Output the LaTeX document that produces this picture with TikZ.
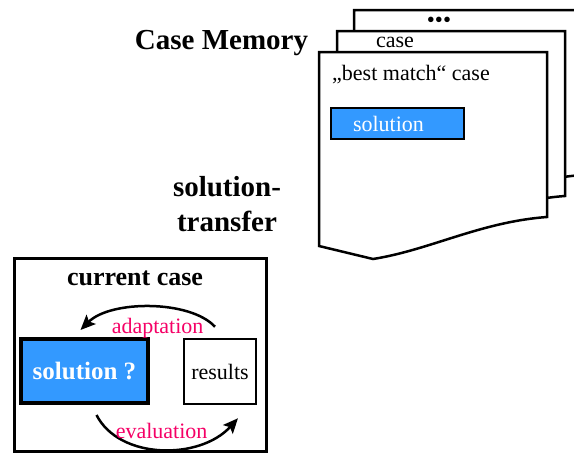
\documentclass[tikz,border=0pt]{standalone}
\usepackage{fontspec}
\setmainfont{Liberation Serif}
\usetikzlibrary{arrows.meta}

\definecolor{solblue}{RGB}{51,153,255}
\definecolor{labelred}{RGB}{245,0,102}

\tikzset{
  casepage/.style={draw=black, fill=white, line width=2.5pt, line join=miter},
  headtext/.style={font=\fontsize{29}{35}\selectfont\bfseries, inner sep=0pt},
  plaintext/.style={font=\fontsize{22}{26}\selectfont, inner sep=0pt},
  membox/.style={draw=black, fill=solblue, line width=2.5pt, text=white,
    font=\fontsize{22}{26}\selectfont, minimum height=31pt,
    inner xsep=22pt, text width=89pt, align=left},
  solbox/.style={draw=black, fill=solblue, line width=4pt, text=white,
    font=\fontsize{25}{30}\selectfont\bfseries, minimum width=127pt, minimum height=64pt},
  resbox/.style={draw=black, fill=white, line width=2.5pt,
    font=\fontsize{22}{26}\selectfont, minimum width=72pt, minimum height=65pt},
  loop/.style={line width=2.5pt, -{Stealth[length=15pt,width=13pt,inset=3pt]}},
  looplabel/.style={text=labelred, font=\fontsize{22}{26}\selectfont, inner sep=0pt}
}

\begin{document}
\begin{tikzpicture}[x=1pt, y=-1pt]
    \useasboundingbox (0,0) rectangle (574,455);
    \clip (0,0) rectangle (574,455);

    % case memory: three stacked pages
    \foreach \dx/\dy in {35/-42, 18/-21, 0/0}{
        \begin{scope}[shift={(\dx,\dy)}]
            \draw[casepage] (319,52) -- (547,52) -- (547,217)
                .. controls (480,222) and (430,250) .. (373,259)
                -- (319,246) -- cycle;
        \end{scope}
    }
    \node[plaintext, font=\fontsize{23}{26}\selectfont] (dots) at (439,22) {•••};
    \node[plaintext, anchor=base] (midcase) at (395,47) {case};
    \node[plaintext, anchor=base west] (bestmatch) at (332,81) {„best match“ case};
    \node[membox] (memsol) at (397.5,123.5) {solution};

    % titles
    \node[headtext, anchor=base] (memtitle) at (221.5,49) {Case Memory};
    \node[headtext, align=center] (transfer) at (227,204) {solution-\\transfer};

    % current case
    \draw[line width=3pt] (14.5,258.5) rectangle (266.5,451.5);
    \node[headtext, font=\fontsize{26}{30}\selectfont\bfseries, anchor=base] (curtitle) at (135,285) {current case};
    \node[solbox] (solq) at (84.5,371) {solution ?};
    \node[resbox] (res) at (220,371.5) {results};

    \draw[loop] ([xshift=-5pt,yshift=11pt]res.north)
        .. controls +(-25,-27) and +(30,-30) .. ([xshift=-4pt,yshift=7pt]solq.north)
        node[looplabel, pos=0.45, below=10pt] (adapt) {adaptation};
    \draw[loop] ([xshift=12pt,yshift=-10pt]solq.south)
        .. controls +(23,45) and +(-38,42) .. ([xshift=18pt,yshift=-13pt]res.south)
        node[looplabel, midway, above=9pt] (evalu) {evaluation};
\end{tikzpicture}
\end{document}
